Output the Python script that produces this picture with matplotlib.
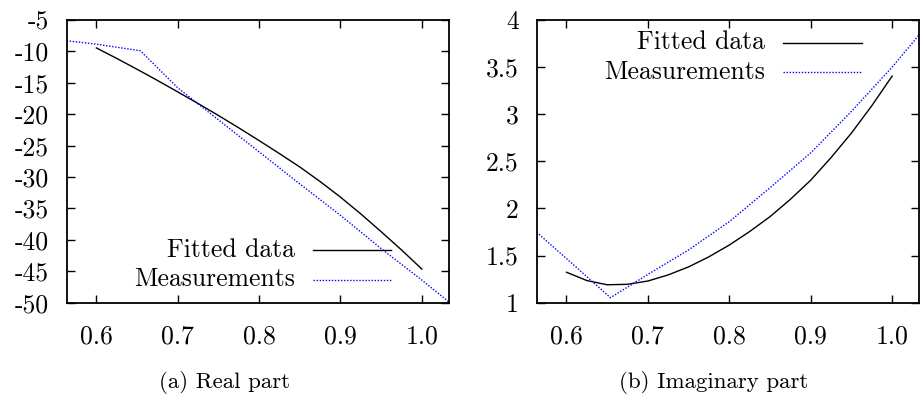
import matplotlib
matplotlib.use("Agg")
import matplotlib.pyplot as plt
from matplotlib.lines import Line2D

plt.rcParams["font.family"] = ["cmr10", "DejaVu Serif"]
plt.rcParams["axes.unicode_minus"] = False
plt.rcParams["mathtext.fontset"] = "cm"

# Measured samples (frequency axis shared by both parts)
x_meas = [0.5634, 0.600, 0.654, 0.70, 0.75, 0.80, 0.85, 0.90, 0.95, 1.00, 1.0334]
real_meas = [-8.3, -8.85, -9.9, -15.8, -20.9, -26.0, -31.1, -36.1, -41.4, -46.4, -49.9]
imag_meas = [1.747, 1.468, 1.053, 1.30, 1.56, 1.86, 2.22, 2.59, 3.03, 3.50, 3.845]

# Fitted model evaluated on the fitting interval
x_fit = [0.600, 0.625, 0.650, 0.675, 0.700, 0.725, 0.750, 0.775, 0.800,
         0.825, 0.850, 0.875, 0.900, 0.925, 0.950, 0.975, 1.000]
real_fit = [-9.45, -11.12, -12.85, -14.62, -16.45, -18.3, -20.2, -22.17, -24.2,
            -26.27, -28.4, -30.72, -33.2, -35.87, -38.7, -41.6, -44.65]
imag_fit = [1.323, 1.235, 1.190, 1.195, 1.230, 1.295, 1.380, 1.487, 1.612,
            1.755, 1.913, 2.097, 2.300, 2.540, 2.800, 3.090, 3.405]

x_ticks = [0.6, 0.7, 0.8, 0.9, 1.0]
x_ticklabels = ["0.6", "0.7", "0.8", "0.9", "1.0"]
re_ticks = [-5, -10, -15, -20, -25, -30, -35, -40, -45, -50]
re_ticklabels = ["-5", "-10", "-15", "-20", "-25", "-30", "-35", "-40", "-45", "-50"]
im_ticks = [1, 1.5, 2, 2.5, 3, 3.5, 4]
im_ticklabels = ["1", "1.5", "2", "2.5", "3", "3.5", "4"]

FS = 18.5
BLUE = "#0000ff"
DOTS = (0, (1.0, 1.2))

fig = plt.figure(figsize=(9.22, 4.0), dpi=100)
ax1 = fig.add_axes([0.0723, 0.2433, 0.4147, 0.7067])
ax2 = fig.add_axes([0.5821, 0.2433, 0.4150, 0.7067])


def style(ax, yticks, ylabels, ylim):
    ax.set_xlim(x_meas[0], x_meas[-1])
    ax.set_ylim(*ylim)
    ax.set_xticks(x_ticks)
    ax.set_xticklabels(x_ticklabels, fontsize=FS)
    ax.set_yticks(yticks)
    ax.set_yticklabels(ylabels, fontsize=FS)
    ax.tick_params(axis="both", which="major", direction="in", length=6,
                   width=1.0, top=True, right=True, color="black")
    ax.tick_params(axis="x", pad=16)
    ax.tick_params(axis="y", pad=13)
    ax.minorticks_off()
    for sp in ax.spines.values():
        sp.set_linewidth(1.3)


def key(ax, rows, ytop, dy):
    # gnuplot-like key: right-aligned label followed by the line sample
    for i, (label, color, ls) in enumerate(rows):
        y = ytop - i * dy
        ax.text(0.597, y, label, transform=ax.transAxes, ha="right",
                va="center", fontsize=FS)
        ax.add_line(Line2D([0.644, 0.849], [y, y], transform=ax.transAxes,
                           color=color, lw=1.0, linestyle=ls))


ax1.plot(x_fit, real_fit, color="black", lw=1.0)
ax1.plot(x_meas, real_meas, color=BLUE, lw=1.0, linestyle=DOTS)
style(ax1, re_ticks, re_ticklabels, (-50, -5))
key(ax1, [("Fitted data", "black", "-"), ("Measurements", BLUE, DOTS)],
    0.186, 0.104)

ax2.plot(x_fit, imag_fit, color="black", lw=1.0)
ax2.plot(x_meas, imag_meas, color=BLUE, lw=1.0, linestyle=DOTS)
style(ax2, im_ticks, im_ticklabels, (1, 4))
key(ax2, [("Fitted data", "black", "-"), ("Measurements", BLUE, DOTS)],
    0.920, 0.105)

fig.text(0.244, 0.045, "(a) Real part", ha="center", va="center", fontsize=16.5)
fig.text(0.774, 0.045, "(b) Imaginary part", ha="center", va="center", fontsize=16.5)

fig.savefig("out.png", dpi=100)
